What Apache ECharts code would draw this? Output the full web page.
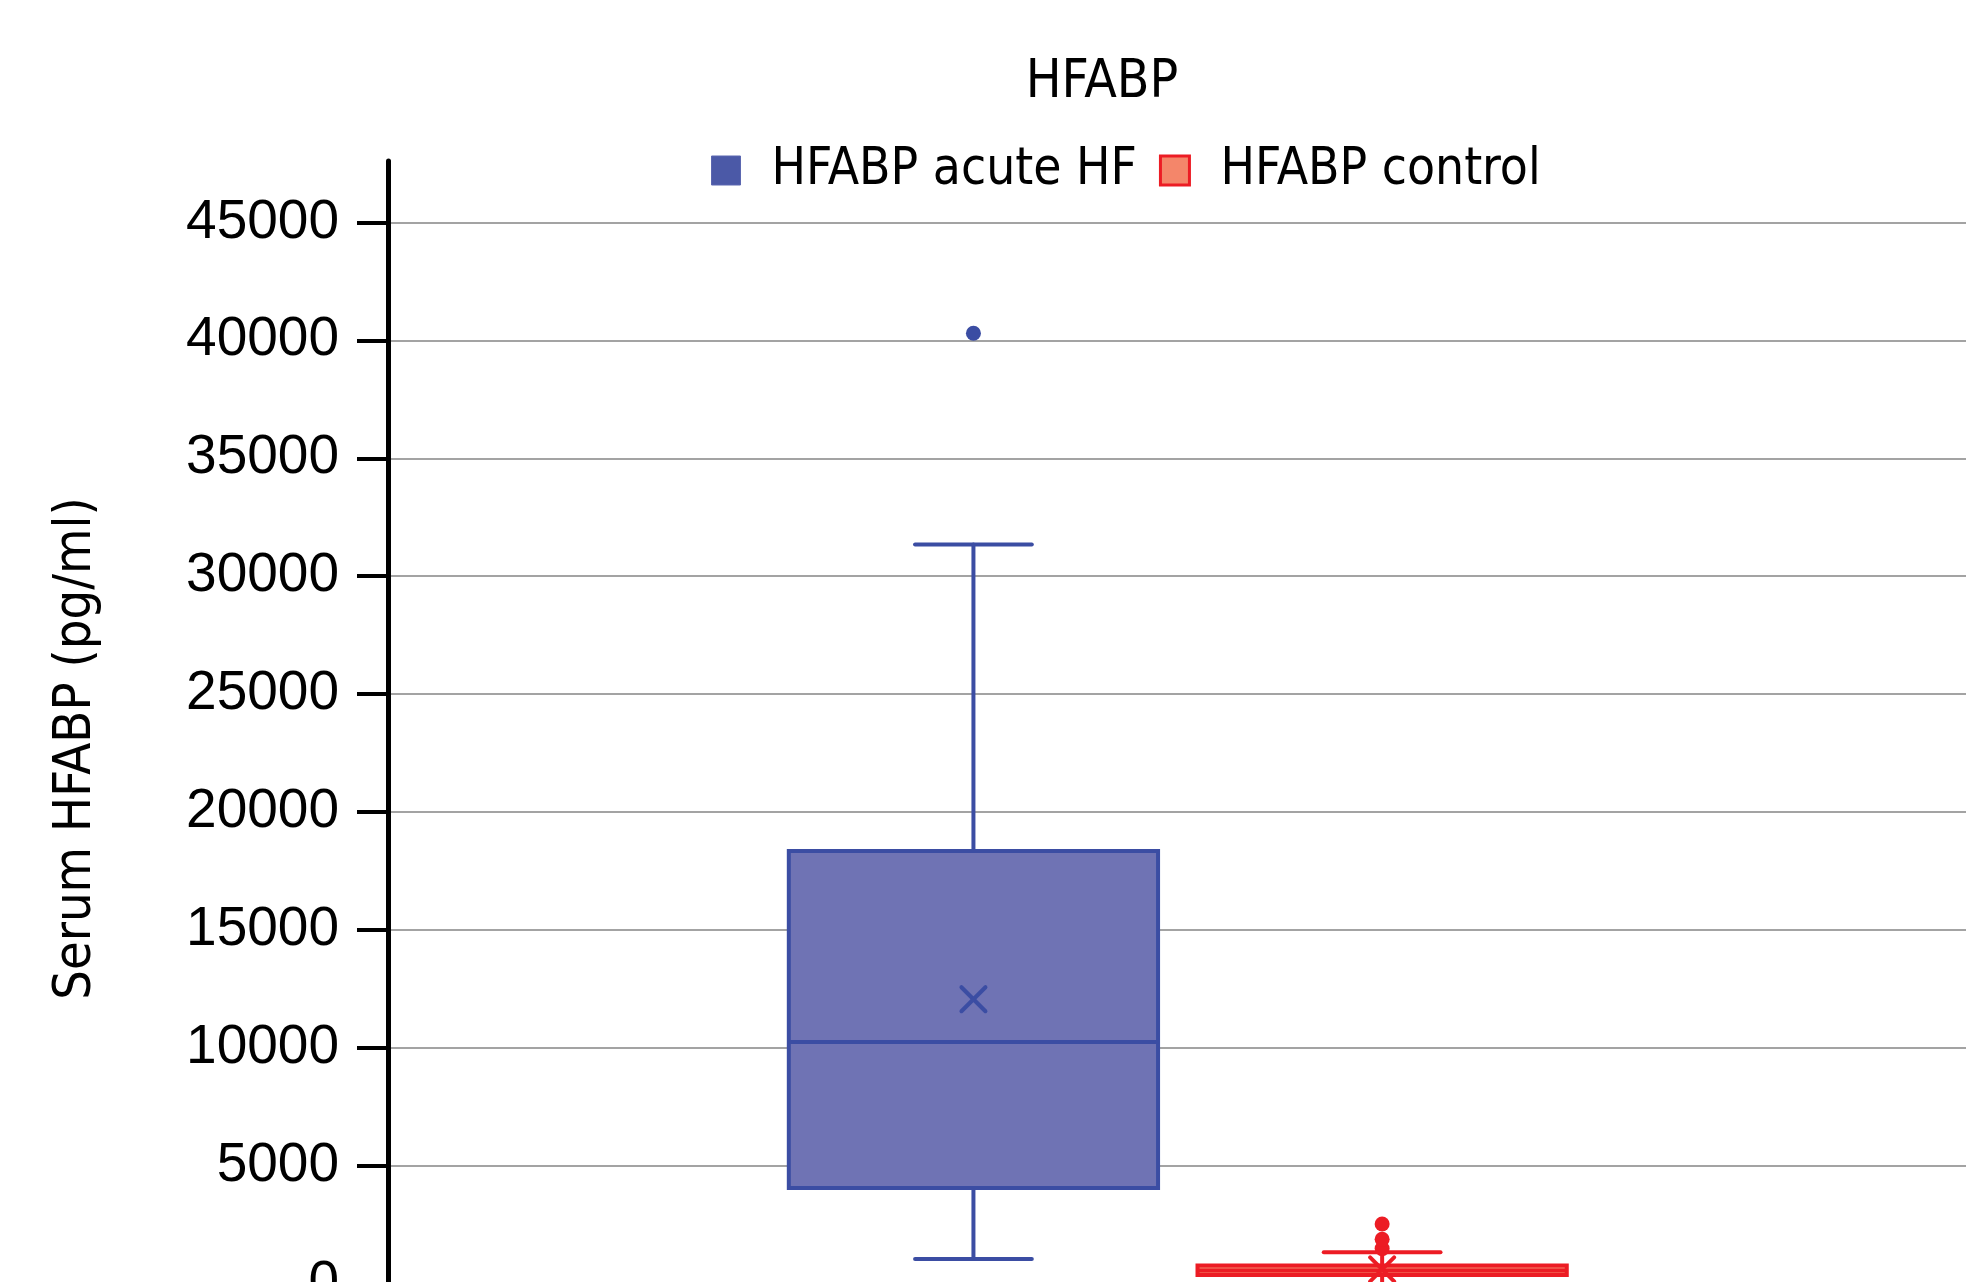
<!DOCTYPE html>
<html>
<head>
<meta charset="UTF-8">
<title>HFABP</title>
<script src="https://cdn.jsdelivr.net/npm/echarts@6/dist/echarts.min.js"></script>
<style>
html,body{margin:0;padding:0;background:#fff;}
#chart{width:1966px;height:1282px;}
</style>
</head>
<body>
<div id="chart"></div>
<script type="text/javascript">
// values (pg/ml)
var groupNames = ['HFABP acute HF', 'HFABP control'];
var minVals = [1060, 0];
var q1Vals = [4070, 380];
var medianVals = [10260, 570];
var q3Vals = [18350, 785];
var maxVals = [31340, 1345];
var meanVals = [12070, 620];
var outlierVals = [[40300], [1500, 1895, 2545]];
var yTicks = [0, 5000, 10000, 15000, 20000, 25000, 30000, 35000, 40000, 45000];

// looks
var lineColors = ['#3b4da3', '#ec1c24'];
var fillColors = ['#6f73b4', '#f4866a'];
var legendFills = ['#4b59a7', '#f4866a'];
var boxOffsets = [-0.129, 0.130];   // share of band width
var narrow = "'Liberation Sans Narrow', 'DejaVu Sans Condensed', 'Liberation Sans', sans-serif";

function renderBox(params, api){
	var i = params.seriesIndex;
	var band = api.size([1, 0])[0];
	var cx = api.coord([0, medianVals[i]])[0] + boxOffsets[i] * band;
	var half = band * 0.117;
	var capHalf = band * 0.037;
	var y = function(v){ return api.coord([0, v])[1]; };
	var stroke = {stroke: lineColors[i], lineWidth: 4, lineCap: 'round'};
	var kids = [];
	// whiskers
	kids.push({type: 'line', shape: {x1: cx, y1: y(q3Vals[i]), x2: cx, y2: y(maxVals[i])}, style: stroke});
	kids.push({type: 'line', shape: {x1: cx, y1: y(q1Vals[i]), x2: cx, y2: y(minVals[i])}, style: stroke});
	// outliers
	outlierVals[i].forEach(function(v){
		kids.push({type: 'circle', shape: {cx: cx, cy: y(v), r: 7.5}, style: {fill: lineColors[i]}});
	});
	kids.push({type: 'line', shape: {x1: cx - capHalf, y1: y(maxVals[i]), x2: cx + capHalf, y2: y(maxVals[i])}, style: stroke});
	kids.push({type: 'line', shape: {x1: cx - capHalf, y1: y(minVals[i]), x2: cx + capHalf, y2: y(minVals[i])}, style: stroke});
	// box
	var top = y(q3Vals[i]), bot = y(q1Vals[i]);
	kids.push({type: 'rect', shape: {x: cx - half, y: top, width: half * 2, height: bot - top},
		style: {fill: fillColors[i], stroke: lineColors[i], lineWidth: 4}});
	kids.push({type: 'line', shape: {x1: cx - half, y1: y(medianVals[i]), x2: cx + half, y2: y(medianVals[i])},
		style: {stroke: lineColors[i], lineWidth: 4}});
	// mean cross
	var my = y(meanVals[i]), m = 12;
	kids.push({type: 'line', shape: {x1: cx - m, y1: my - m, x2: cx + m, y2: my + m}, style: stroke});
	kids.push({type: 'line', shape: {x1: cx - m, y1: my + m, x2: cx + m, y2: my - m}, style: stroke});
	return {type: 'group', children: kids};
}

var mychart = echarts.init(document.getElementById('chart'));
var series = [];
for(var i = 0; i < groupNames.length; i++){
	series.push({
		name: groupNames[i],
		type: 'custom',
		renderItem: renderBox,
		clip: false,
		itemStyle: {color: legendFills[i]},
		data: [[0, medianVals[i]]]
	});
}
var option = {
	backgroundColor: '#fff',
	animation: false,
	title: {
		text: 'HFABP',
		left: 1097,
		top: 52,
		textAlign: 'center',
		textStyle: {fontSize: 53, fontWeight: 'normal', color: '#000', fontFamily: narrow}
	},
	legend: {
		left: 711,
		top: 145,
		padding: 0,
		itemGap: 22,
		itemWidth: 29,
		itemHeight: 29,
		icon: 'rect',
		textStyle: {fontSize: 51, color: '#000', fontFamily: narrow, padding: [0, 0, 0, 26]},
		data: [
			{name: groupNames[0], itemStyle: {color: legendFills[0], borderColor: '#5b67b0', borderWidth: 1}},
			{name: groupNames[1], itemStyle: {color: legendFills[1], borderColor: lineColors[1], borderWidth: 3}}
		]
	},
	grid: {left: 388, right: 0, top: 161, bottom: -2, containLabel: false, outerBoundsMode: 'none'},
	xAxis: {
		type: 'category',
		data: ['HFABP'],
		axisLine: {show: false},
		axisTick: {show: false},
		axisLabel: {show: false},
		splitLine: {show: false}
	},
	yAxis: {
		type: 'value',
		min: 0,
		max: 47600,
		interval: 5000,
		name: 'Serum HFABP (pg/ml)',
		nameLocation: 'middle',
		nameGap: 286,
		nameTextStyle: {fontSize: 52, color: '#000', fontFamily: narrow, padding: [0, 52, 0, 0]},
		axisLine: {show: true, lineStyle: {color: '#000', width: 5}},
		axisTick: {show: true, length: 31, customValues: yTicks, lineStyle: {color: '#000', width: 4}},
		axisLabel: {fontSize: 55, color: '#000', margin: 49, fontFamily: "'Liberation Sans', Arial, sans-serif",
			customValues: yTicks, formatter: function(v){ return String(v); }},
		splitLine: {show: true, lineStyle: {color: '#a3a3a3', width: 2}}
	},
	series: series
};
mychart.setOption(option);
</script>
</body>
</html>
